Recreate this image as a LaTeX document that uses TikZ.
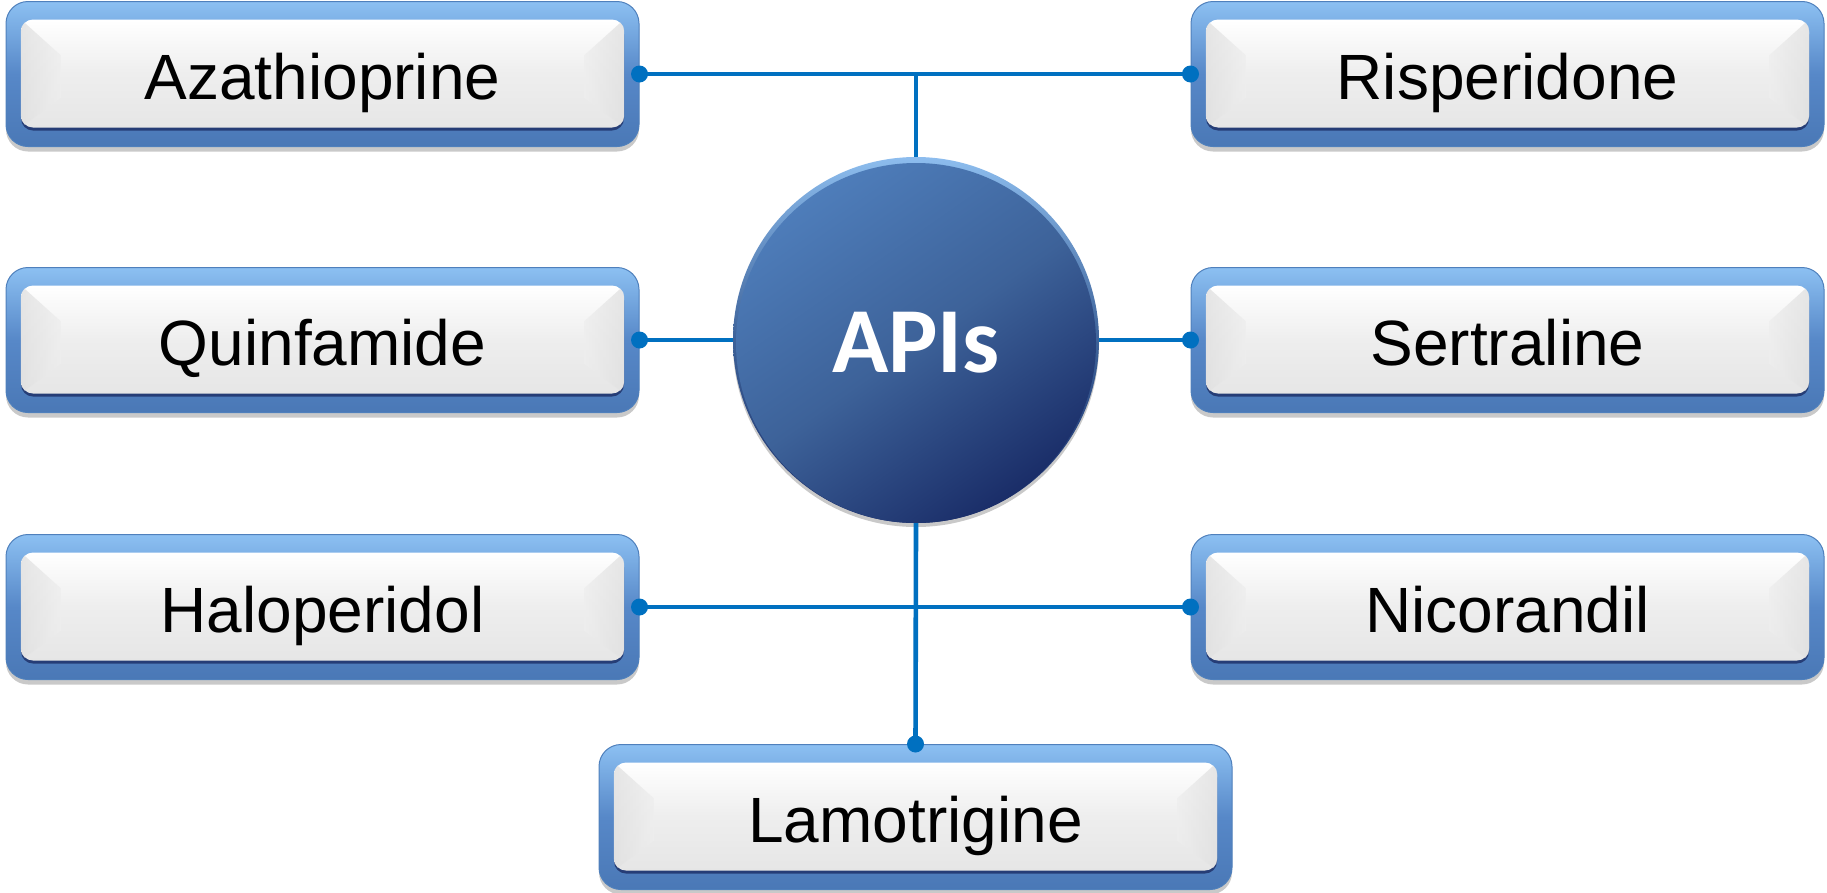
\documentclass[tikz,border=0pt]{standalone}
\usepackage{fontspec}
\setmainfont{Liberation Sans}
\newfontfamily\apifont{Carlito}
\usetikzlibrary{shadows,calc}
\definecolor{linkblue}{HTML}{0070C0}
\definecolor{frametop}{HTML}{8CC0F2}
\definecolor{framemid}{HTML}{5788C8}
\definecolor{framebot}{HTML}{4A78B6}
\definecolor{frameedge}{HTML}{4F80BC}
\definecolor{innerbot}{HTML}{E6E6E6}
\definecolor{innermid}{HTML}{EEEEEE}
\definecolor{bevelgray}{HTML}{E0E0E0}
\definecolor{apitop}{HTML}{4E7DBA}
\definecolor{apimid}{HTML}{3D6299}
\definecolor{apibot}{HTML}{1A2D68}
\definecolor{apirim}{HTML}{8DBDEE}
\tikzset{
  outerbox/.style={rounded corners=22pt, minimum width=633pt, minimum height=145pt,
    draw=frameedge, line width=1pt, top color=frametop, bottom color=framebot, middle color=framemid,
    drop shadow={shadow xshift=0pt, shadow yshift=-5pt, opacity=0.3, fill=black!70},
    inner sep=0pt},
  innerbox/.style={rounded corners=12pt, minimum width=603pt, minimum height=108pt,
    top color=white, bottom color=innerbot, middle color=innermid, inner sep=0pt,
    drop shadow={shadow xshift=0pt, shadow yshift=-3pt, opacity=0.5, fill=black!80!blue}},
  lbl/.style={font=\fontsize{64}{70}\selectfont, text height=46pt, text depth=0pt, inner sep=0pt},
  link/.style={draw=linkblue, line width=4.6pt},
  apirimstyle/.style={circle, minimum size=366pt, inner sep=0pt,
    top color=apirim, bottom color=apibot, middle color=apimid,
    drop shadow={shadow xshift=0pt, shadow yshift=-4pt, opacity=0.3, fill=black!70}},
  apicircle/.style={circle, minimum size=360pt, inner sep=0pt,
    top color=apitop, bottom color=apibot, middle color=apimid, shading angle=35,
    text=white, font=\apifont\bfseries\fontsize{93}{100}\selectfont},
}
\newcommand\drugbox[3]{%
  \node[outerbox] (#1) at (#2) {};
  \node[innerbox] (#1-in) at ($(#1.center)+(0,-0.5)$) {};
  \begin{scope}
    \clip[rounded corners=12pt] (#1-in.north west) rectangle (#1-in.south east);
    \shade[left color=bevelgray, right color=innermid, opacity=0.8]
      (#1-in.north west) -- ++(40,36) -- ($(#1-in.south west)+(40,-30)$) -- (#1-in.south west) -- cycle;
    \shade[right color=bevelgray, left color=innermid, opacity=0.8]
      (#1-in.north east) -- ++(-40,36) -- ($(#1-in.south east)+(-40,-30)$) -- (#1-in.south east) -- cycle;
  \end{scope}
  \node[lbl] (#1-t) at ($(#1.center)+(0,2)$) {#3};
}
\begin{document}
\begin{tikzpicture}[x=1pt, y=-1pt]
\useasboundingbox (0,0) rectangle (1827,892);
\drugbox{azat}{322.5,74}{Azathioprine}
\drugbox{risp}{1507.5,74}{Risperidone}
\drugbox{quin}{322.5,340}{Quinfamide}
\drugbox{sert}{1507.5,340}{Sertraline}
\drugbox{halo}{322.5,607}{Haloperidol}
\drugbox{nico}{1507.5,607}{Nicorandil}
\drugbox{lamo}{915.5,817}{Lamotrigine}
\node[apirimstyle] (api) at (916,340) {};
\node[apicircle] (apiface) at ($(api.center)+(0,3)$) {APIs};
\draw[link] (azat.east) -- (risp.west);
\draw[link] (azat.east -| api.north) -- (api.north);
\draw[link] (quin.east) -- (api.west);
\draw[link] (api.east) -- (sert.west);
\draw[link] (halo.east) -- (nico.west);
\draw[link] (api.south) -- (lamo.north);
\foreach \p in {azat.east, risp.west, quin.east, sert.west, halo.east, nico.west, lamo.north}
  \fill[linkblue] (\p) circle (8.5pt);
\end{tikzpicture}
\end{document}
